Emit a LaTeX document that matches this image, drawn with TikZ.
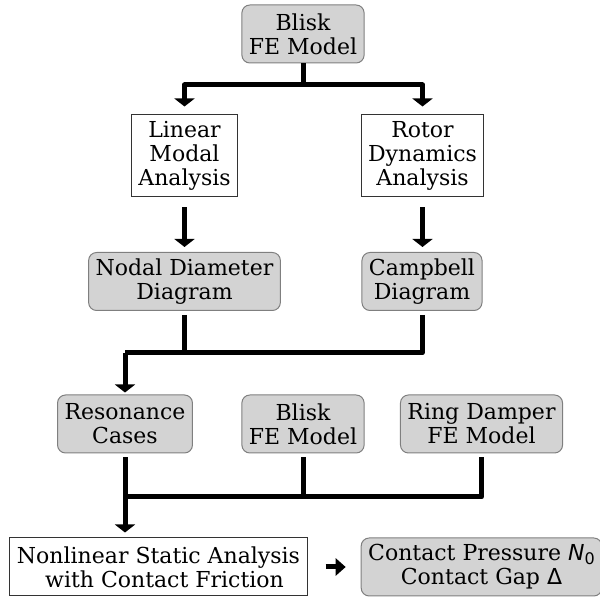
\documentclass[tikz,border=0pt]{standalone}
\usepackage{fontspec}
\setmainfont{DejaVu Serif}
\newfontfamily\symfont{DejaVu Sans}
\usetikzlibrary{positioning,arrows.meta}
\definecolor{boxfill}{HTML}{D3D3D3}
\definecolor{boxline}{HTML}{7F7F7F}

\begin{document}
\begin{tikzpicture}[
  x=0.5pt, y=-0.5pt,
  font=\fontsize{11}{12}\selectfont,
  box/.style={rounded corners=4pt, draw=boxline, line width=0.5pt, fill=boxfill, align=center, inner xsep=3.5pt, inner ysep=2pt, minimum height=29pt},
  plain/.style={box, sharp corners, draw=black!80, fill=white},
  line/.style={line width=2.5pt, line join=round},
  arr/.style={line, -{Triangle[length=4pt, width=10pt]}},
]
\useasboundingbox (0,0) rectangle (600,597);
\node[box] (fe) at (303,34) {Blisk\\FE Model};
\node[plain, minimum height=41pt] (lma) at (184.5,156) {Linear\\Modal\\Analysis};
\node[plain, minimum height=41pt] (rda) at (422.5,156) {Rotor\\Dynamics\\Analysis};
\node[box] (ndd) at (184.5,281.5) {Nodal Diameter\\Diagram};
\node[box] (cd) at (422,281.5) {Campbell\\Diagram};
\node[box] (rc) at (125,424) {Resonance\\Cases};
\node[box] (fe2) at (303,424) {Blisk\\FE Model};
\node[box] (rdm) at (481.5,424) {Ring Damper\\FE Model};
\node[plain] (nsa) at (158.5,567) {Nonlinear Static Analysis\\\hspace*{6pt}with Contact Friction};
\node[box] (cp) at (481.5,567) {Contact Pressure {\symfont\itshape N}\raisebox{-0.3ex}{\symfont\footnotesize 0}\\Contact Gap {\symfont Δ}};
% split after the blisk model
\coordinate (s1) at (303,85);
\draw[line] (fe) -- (s1);
\draw[arr, shorten >=4pt] (s1) -| (lma);
\draw[arr, shorten >=4pt] (s1) -| (rda);
\draw[arr, shorten <=5pt, shorten >=2.5pt] (lma) -- (ndd);
\draw[arr, shorten <=5pt, shorten >=2.5pt] (rda.south) -- (rda.south |- cd.north);
% merge into resonance cases
\coordinate (s2) at (125,353);
\draw[line, shorten <=2pt] (ndd) |- (s2);
\draw[line, shorten <=2pt] (cd) |- (s2);
\draw[arr, shorten >=1pt] (s2) -- (rc);
% merge into static analysis
\coordinate (s3) at (125,497);
\draw[line, shorten <=2pt] (rc) -- (s3);
\draw[line, shorten <=2pt] (fe2) |- (s3);
\draw[line, shorten <=2pt] (rdm) |- (s3);
\draw[arr, shorten >=2.5pt] (s3) -- (s3 |- nsa.north);
\draw[line, -{Triangle[length=5pt, width=8.5pt]}, shorten <=9pt, shorten >=7.5pt] (nsa) -- (cp);
\end{tikzpicture}
\end{document}
